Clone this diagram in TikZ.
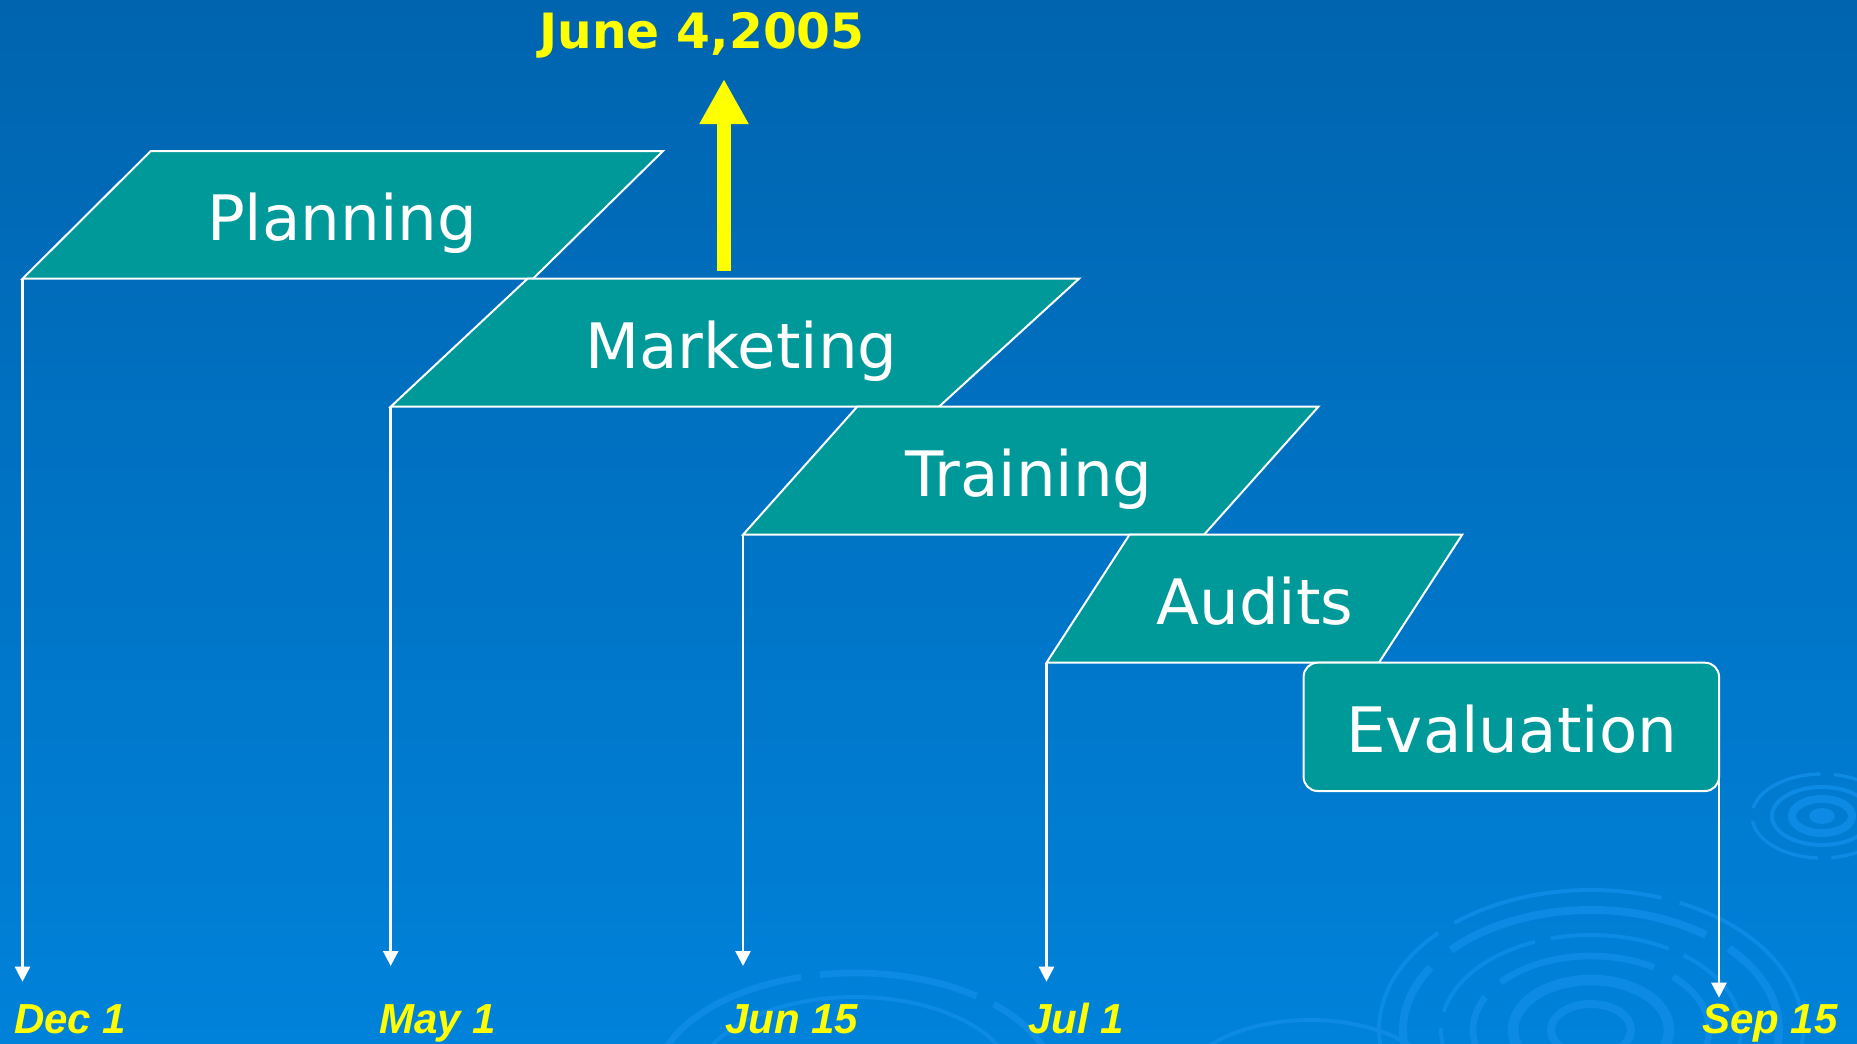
\documentclass[tikz,border=0pt]{standalone}
\usepackage{fontspec}
\setmainfont{DejaVu Sans}
\newfontfamily\datefont{Liberation Sans}
\usetikzlibrary{arrows.meta}
\definecolor{bgtop}{RGB}{0,100,175}
\definecolor{bgmid}{RGB}{0,108,186}
\definecolor{bgbot}{RGB}{0,130,218}
\definecolor{stagefill}{RGB}{0,153,153}
\definecolor{ripplec}{RGB}{12,138,228}
\definecolor{datey}{RGB}{255,255,0}
\tikzset{
  stagebox/.style={draw=white, line width=1.5pt, fill=stagefill, line join=miter},
  stagetext/.style={text=white, anchor=base, inner sep=0pt, font=\fontsize{47}{50}\selectfont},
  datelabel/.style={text=datey, anchor=base west, inner sep=0pt, font=\datefont\bfseries\itshape\fontsize{31.5}{34}\selectfont},
  timeline/.style={draw=white, line width=1.9pt, -{Triangle[length=11.25pt,width=11.25pt]}},
  milestone/.style={draw=datey, line width=10.5pt, -{Triangle[length=33.75pt,width=34.5pt]}},
  ripple/.style={draw=ripplec}
}
\begin{document}
\begin{tikzpicture}[x=0.75pt,y=-0.75pt]
\useasboundingbox (0,0) rectangle (1857,1043);
\shade[top color=bgtop, middle color=bgmid, bottom color=bgbot] (0,0) rectangle (1857,1043);
% background ripples
\begin{scope}
\clip (0,0) rectangle (1857,1043);
\draw[ripple, line width=3pt, dash pattern=on 160pt off 14pt] (1591,1030) ellipse [x radius=212, y radius=140];
\draw[ripple, line width=6pt, dash pattern=on 200pt off 20pt] (1591,1030) ellipse [x radius=188, y radius=120];
\draw[ripple, line width=3pt, dash pattern=on 90pt off 12pt] (1591,1030) ellipse [x radius=150, y radius=95];
\draw[ripple, line width=5pt, dash pattern=on 120pt off 16pt] (1591,1030) ellipse [x radius=118, y radius=74];
\draw[ripple, line width=8pt] (1591,1030) ellipse [x radius=78, y radius=50];
\draw[ripple, line width=6pt] (1591,1030) ellipse [x radius=40, y radius=26];
\fill[ripplec] (1822,816) ellipse [x radius=13, y radius=8];
\draw[ripple, line width=6pt] (1822,816) ellipse [x radius=30, y radius=17];
\draw[ripple, line width=3pt] (1822,816) ellipse [x radius=50, y radius=29];
\draw[ripple, line width=2.5pt, dash pattern=on 60pt off 10pt] (1822,816) ellipse [x radius=70, y radius=42];
\draw[ripple, line width=5pt, dash pattern=on 120pt off 14pt] (855,1085) ellipse [x radius=200, y radius=112];
\draw[ripple, line width=3pt] (855,1085) ellipse [x radius=160, y radius=88];
\draw[ripple, line width=3pt] (1310,1090) ellipse [x radius=130, y radius=70];
\end{scope}
% stage shapes
\coordinate (p1) at (150.8,151);  \coordinate (p2) at (663,151);
\coordinate (p3) at (533,278.7);  \coordinate (p4) at (22.5,278.7);
\coordinate (m1) at (527.5,278.7); \coordinate (m2) at (1079,278.7);
\coordinate (m3) at (939,406.7);   \coordinate (m4) at (390.7,406.7);
\coordinate (t1) at (857.2,406.7); \coordinate (t2) at (1318.4,406.7);
\coordinate (t3) at (1204,534.7);  \coordinate (t4) at (743,534.7);
\coordinate (a1) at (1129.5,534.7); \coordinate (a2) at (1462.2,534.7);
\coordinate (a3) at (1378.9,662.7); \coordinate (a4) at (1046.5,662.7);
\path[stagebox] (p1) -- (p2) -- (p3) -- (p4) -- cycle;
\path[stagebox] (m1) -- (m2) -- (m3) -- (m4) -- cycle;
\path[stagebox] (t1) -- (t2) -- (t3) -- (t4) -- cycle;
\path[stagebox] (a1) -- (a2) -- (a3) -- (a4) -- cycle;
\path[stagebox, rounded corners=10.5pt] (1303.6,662.7) rectangle (1719,791);
\node[stagetext] (planning) at (342,240) {Planning};
\node[stagetext] (marketing) at (741.5,368.3) {Marketing};
\node[stagetext] (training) at (1029,496.7) {Training};
\node[stagetext] (audits) at (1255,624.3) {Audits};
\node[stagetext] (evaluation) at (1511.7,752.3) {Evaluation};
% timelines
\coordinate (dectip) at (22.5,981.7);
\coordinate (maytip) at (390.7,966);
\coordinate (juntip) at (743,966);
\coordinate (jultip) at (1046.5,981.7);
\coordinate (sepstart) at (1719,777);
\coordinate (septip) at (1719,997.7);
\draw[timeline] (p4) -- (dectip);
\draw[timeline] (m4) -- (maytip);
\draw[timeline] (t4) -- (juntip);
\draw[timeline] (a4) -- (jultip);
\draw[timeline] (sepstart) -- (septip);
\node[datelabel] (dec) at (14,1033) {Dec 1};
\node[datelabel] (may) at (379,1033) {May 1};
\node[datelabel] (jun) at (725,1033) {Jun 15};
\node[datelabel] (jul) at (1028,1033) {Jul 1};
\node[datelabel] (sep) at (1702,1033) {Sep 15};
% milestone
\coordinate (jbase) at (724,270.7);
\coordinate (jtip) at (724,79);
\draw[milestone] (jbase) -- (jtip);
\node[text=datey, anchor=base, inner sep=0pt, font=\bfseries\fontsize{36.5}{40}\selectfont] (june) at (702,48) {June 4,2005};
\end{tikzpicture}
\end{document}
